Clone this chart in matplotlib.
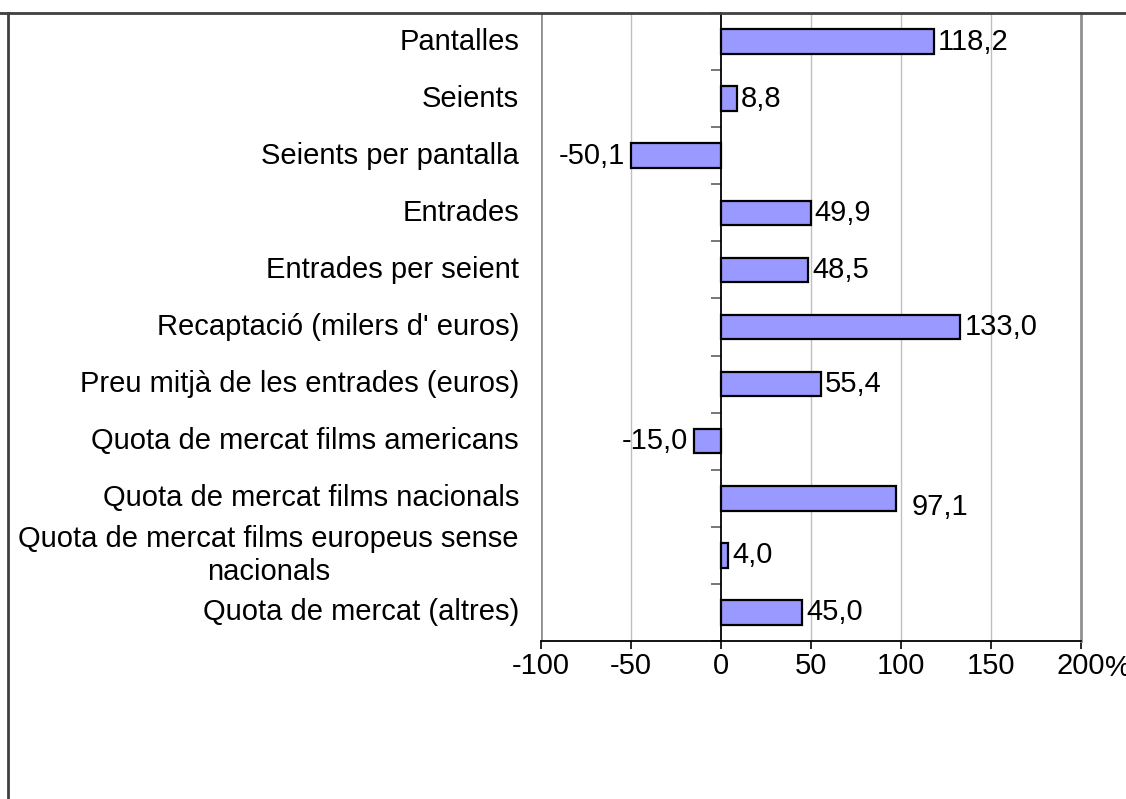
import matplotlib
matplotlib.use("Agg")
import matplotlib.pyplot as plt
from matplotlib.lines import Line2D
import matplotlib.transforms as mtransforms

plt.rcParams['font.family'] = ['Liberation Sans', 'DejaVu Sans']

categories = ["Pantalles", "Seients", "Seients per pantalla", "Entrades",
              "Entrades per seient", "Recaptació (milers d' euros)",
              "Preu mitjà de les entrades (euros)",
              "Quota de mercat films americans",
              "Quota de mercat films nacionals",
              "Quota de mercat films europeus sense\nnacionals",
              "Quota de mercat (altres)"]
values = [118.2, 8.8, -50.1, 49.9, 48.5, 133.0, 55.4, -15.0, 97.1, 4.0, 45.0]
xticks = [-100, -50, 0, 50, 100, 150, 200]

W, H = 1126, 799
fig = plt.figure(figsize=(W / 100, H / 100), dpi=100)
ax = fig.add_axes([541 / W, 1 - 641 / H, 540 / W, 628 / H])

y = list(range(len(categories)))
ax.barh(y, values, height=0.43, color='#9999ff', edgecolor='black', linewidth=1.6, zorder=3)

ax.set_xlim(-100, 200)
ax.set_ylim(len(categories) - 0.5, -0.5)

# gridlines and frame
for g in [-50, 50, 100, 150]:
    ax.axvline(g, color='#c0c0c0', lw=1, zorder=1)
ax.axvline(-100, color='#909090', lw=2, zorder=1)
ax.spines['right'].set_color('#909090')
ax.spines['right'].set_linewidth(2)
ax.spines['top'].set_visible(False)
ax.spines['bottom'].set_color('black')
ax.spines['bottom'].set_linewidth(1.3)
ax.spines['left'].set_position(('data', 0))
ax.spines['left'].set_linewidth(1.3)
ax.spines['left'].set_zorder(4)

ax.set_yticks([i - 0.5 for i in range(len(categories) + 1)])
ax.set_yticklabels([])
ax.tick_params(axis='y', direction='out', length=7, width=1.2, color='#606060')

ax.set_xticks(xticks)
ax.set_xticklabels([str(t) for t in xticks], fontsize=21)
ax.tick_params(axis='x', direction='out', length=6, width=1.2, pad=2)
ax.text(1.0, -0.0, "%", transform=ax.transAxes + mtransforms.ScaledTranslation(0.24, -0.13, fig.dpi_scale_trans),
        fontsize=21, va='top', ha='left')

# category labels
trans = mtransforms.blended_transform_factory(ax.transAxes, ax.transData)
for i, c in enumerate(categories):
    ax.text(-22 / 540, i, c, transform=trans, ha='right', va='center',
            multialignment='center', fontsize=21)

# value labels
for i, v in enumerate(values):
    s = f"{v:.1f}".replace('.', ',')
    if v < 0:
        ax.annotate(s, (v, i), xytext=(-6, 0), textcoords='offset pixels',
                    ha='right', va='center', fontsize=21)
    elif i == 8:
        ax.annotate(s, (v, i), xytext=(16, -9), textcoords='offset pixels',
                    ha='left', va='center', fontsize=21)
    else:
        ax.annotate(s, (v, i), xytext=(4, 0), textcoords='offset pixels',
                    ha='left', va='center', fontsize=21)

# outer chart border
fig.add_artist(Line2D([0, 1], [1 - 13 / H, 1 - 13 / H], transform=fig.transFigure, color='#404040', lw=2))
fig.add_artist(Line2D([8 / W, 8 / W], [0, 1 - 13 / H], transform=fig.transFigure, color='#404040', lw=2))

fig.savefig("out.png", dpi=100)
